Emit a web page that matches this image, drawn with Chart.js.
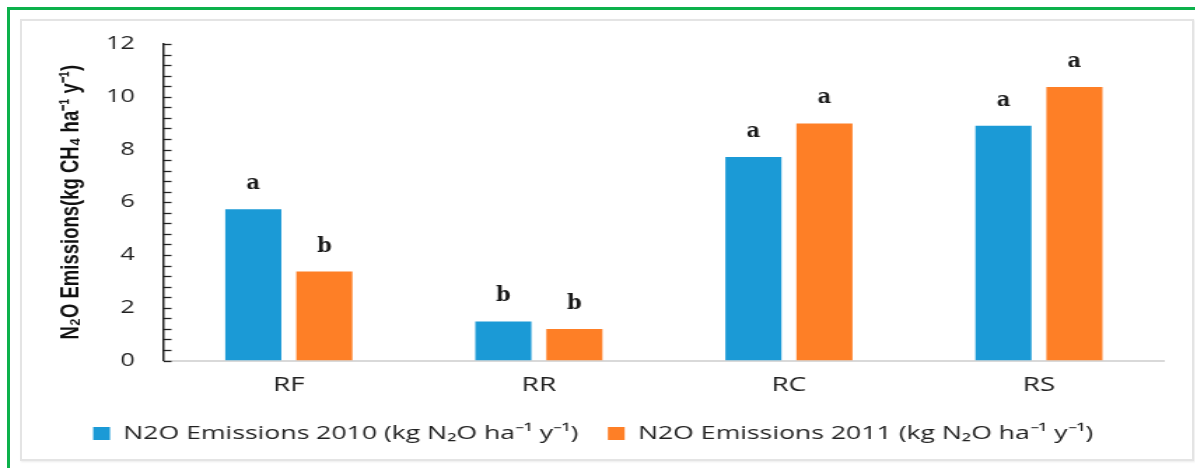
<!DOCTYPE html>
<html>
<head>
<meta charset="utf-8">
<script src="https://cdn.jsdelivr.net/npm/chart.js@4.4.1/dist/chart.umd.min.js"></script>
<style>
  html, body { margin: 0; padding: 0; background: #ffffff; }
  body { width: 1195px; height: 468px; position: relative; overflow: hidden; }
  #green { position: absolute; left: 7px; top: 7px; width: 1200px; height: 480px;
           border-left: 3px solid #0cb14b; border-top: 3px solid #0cb14b; box-sizing: border-box; }
  #frame { position: absolute; left: 20px; top: 19px; width: 1174px; height: 442px;
           border: 2px solid #e4e4e4; box-sizing: border-box; box-shadow: 1px 1px 2px rgba(0,0,0,0.08); }
  #wrap { position: absolute; left: 0; top: 0; width: 854px; height: 468px;
          transform: scaleX(1.4); transform-origin: 0 0; }
</style>
</head>
<body>
<div id="green"></div>
<div id="frame"></div>
<div id="wrap"><canvas id="c" width="854" height="468"></canvas></div>
<script>
const categories = ['RF', 'RR', 'RC', 'RS'];
const emissions2010 = [5.73, 1.48, 7.72, 8.90];
const emissions2011 = [3.37, 1.19, 8.99, 10.37];
const letters2010 = ['a', 'b', 'a', 'a'];
const letters2011 = ['b', 'b', 'a', 'a'];
const yTicks = [0, 2, 4, 6, 8, 10, 12];
const seriesNames = ['N2O Emissions 2010 (kg N\u2082O ha\u207B\u00B9 y\u207B\u00B9)',
                     'N2O Emissions 2011 (kg N\u2082O ha\u207B\u00B9 y\u207B\u00B9)'];
const yTitle = 'N\u2082O Emissions(kg CH\u2084 ha\u207B\u00B9 y\u207B\u00B9)';

const BLUE = '#1b9ad6';
const ORANGE = '#fe7f26';
const STRETCH = 1.4;
const SANS = '"Open Sans", "Liberation Sans", sans-serif';

const lettersPlugin = {
  id: 'letters',
  afterDatasetsDraw(chart) {
    const ctx = chart.ctx;
    const sets = [letters2010, letters2011];
    chart.data.datasets.forEach((ds, di) => {
      const meta = chart.getDatasetMeta(di);
      meta.data.forEach((bar, i) => {
        ctx.save();
        ctx.translate(bar.x, bar.y - 20);
        ctx.scale(1 / STRETCH, 1);
        ctx.font = 'bold 21px "DejaVu Serif", "Liberation Serif", serif';
        ctx.fillStyle = '#1a1a1a';
        ctx.textAlign = 'center';
        ctx.textBaseline = 'alphabetic';
        ctx.fillText(sets[di][i], 0, 0);
        ctx.restore();
      });
    });
  }
};

const minorTicksPlugin = {
  id: 'minorTicks',
  afterDraw(chart) {
    const y = chart.scales.y;
    const ctx = chart.ctx;
    const x0 = y.right;
    ctx.save();
    ctx.strokeStyle = '#222';
    ctx.lineWidth = 1.3;
    for (let k = 0; k <= 30; k++) {
      const v = k * 0.4;
      const py = Math.round(y.getPixelForValue(v)) + 0.5;
      ctx.beginPath();
      ctx.moveTo(x0, py);
      ctx.lineTo(x0 + 5.5, py);
      ctx.stroke();
    }
    ctx.restore();
  }
};

new Chart(document.getElementById('c'), {
  type: 'bar',
  data: {
    labels: categories,
    datasets: [
      { label: seriesNames[0], data: emissions2010, backgroundColor: BLUE,
        barPercentage: 0.79, categoryPercentage: 0.568 },
      { label: seriesNames[1], data: emissions2011, backgroundColor: ORANGE,
        barPercentage: 0.79, categoryPercentage: 0.568 }
    ]
  },
  options: {
    responsive: false,
    animation: false,
    devicePixelRatio: 1,
    layout: { padding: { left: 16, right: 22.6, top: 44, bottom: 15 } },
    plugins: {
      tooltip: { enabled: false },
      legend: {
        position: 'bottom',
        labels: {
          boxWidth: 12, boxHeight: 13, padding: 21,
          color: '#222',
          font: { family: SANS, size: 19 }
        }
      }
    },
    scales: {
      x: {
        grid: { display: false, drawTicks: false },
        border: { display: true, color: '#d9d9d9', width: 2 },
        ticks: { color: '#222', padding: 13, font: { family: SANS, size: 20 } },
        afterFit(scale) { scale.height = 42.5; }
      },
      y: {
        min: 0, max: 12,
        afterBuildTicks(scale) { scale.ticks = yTicks.map(v => ({ value: v })); },
        grid: { display: false, drawTicks: false },
        border: { display: true, color: '#222', width: 1.5 },
        ticks: { color: '#222', padding: 20.6, font: { family: SANS, size: 18 } },
        title: {
          display: true, text: yTitle, color: '#111',
          padding: { top: 24.3, bottom: 0 },
          font: { family: '"Liberation Sans", sans-serif', size: 18.5, weight: 'bold' }
        },
        afterFit(scale) { scale.width = 101; }
      }
    }
  },
  plugins: [lettersPlugin, minorTicksPlugin]
});
</script>
</body>
</html>
